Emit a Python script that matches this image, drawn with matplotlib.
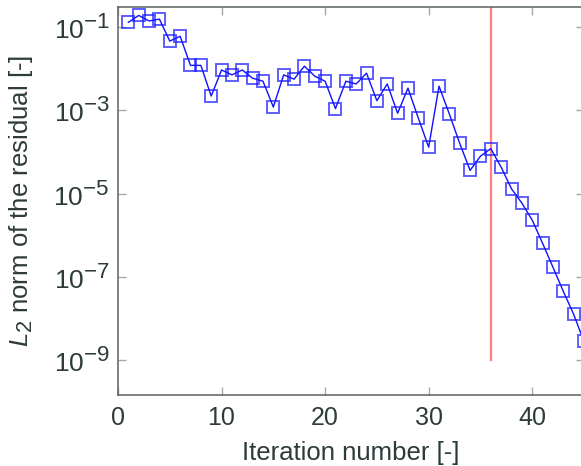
import matplotlib
matplotlib.use("Agg")
import matplotlib.pyplot as plt
import numpy as np
from matplotlib.ticker import NullLocator, FixedLocator
try:
    import matplotlib._mathtext as _mt
    _mt.SHRINK_FACTOR = 0.85
except Exception:
    pass

iterations = list(range(1, 46))
residuals = [0.13, 0.19, 0.14, 0.155, 0.046, 0.06, 0.012, 0.012, 0.0022, 0.0093,
             0.0071, 0.0093, 0.0059, 0.005, 0.0012, 0.0071, 0.0056, 0.0115, 0.0066, 0.005,
             0.0011, 0.005, 0.0043, 0.0078, 0.0017, 0.0043, 0.00085, 0.0034, 0.00065, 1.3e-4,
             0.0038, 8.1e-4, 1.6e-4, 3.6e-5, 7.9e-5, 1.2e-4, 4.3e-5, 1.3e-5, 5.9e-6, 2.3e-6,
             6.4e-7, 1.7e-7, 4.5e-8, 1.26e-8, 2.8e-9]
switch_iteration = 36
switch_ymin = 1e-9
xticks = [0, 10, 20, 30, 40]
yticks = [1e-1, 1e-3, 1e-5, 1e-7, 1e-9]

plt.rcParams['font.family'] = ['Liberation Sans', 'DejaVu Sans']
plt.rcParams['mathtext.fontset'] = 'custom'
plt.rcParams['mathtext.rm'] = 'Liberation Sans'
plt.rcParams['mathtext.it'] = 'Liberation Sans:italic'
plt.rcParams['mathtext.bf'] = 'Liberation Sans:bold'

text_color = '#2e3b3b'
fig = plt.figure(figsize=(5.81, 4.66), dpi=100)
ax = fig.add_axes([118/581, 1-395/466, (584-118)/581, (395-7)/466])

ax.plot(iterations, residuals, color='#1010ff', lw=1.0, zorder=3)
ax.plot(iterations, residuals, ls='none', marker='s', ms=8.7, mfc='none',
        mec=(0.1, 0.1, 1.0, 0.7), mew=1.4, zorder=4)
ax.plot([switch_iteration, switch_iteration], [switch_ymin, 10], color='#ff7f7f',
        lw=1.6, zorder=2, clip_on=True)

ax.set_yscale('log')
ax.set_xlim(0, 45)
ax.set_ylim(1.45e-10, 0.303)
ax.xaxis.set_major_locator(FixedLocator(xticks))
ax.yaxis.set_major_locator(FixedLocator(yticks))
ax.yaxis.set_minor_locator(NullLocator())
ax.xaxis.set_minor_locator(NullLocator())

ax.tick_params(direction='in', length=6, width=1.0, color='#a8a8a8',
               labelsize=18, labelcolor=text_color, top=True, right=True)
ax.tick_params(axis='x', pad=8)
ax.tick_params(axis='y', pad=6, labelsize=19)
for s in ax.spines.values():
    s.set_color('#5a6060')
    s.set_linewidth(1.1)

ax.set_xlabel('Iteration number [-]', fontsize=18.5, color=text_color, labelpad=8)
ax.set_ylabel('$L_2$ norm of the residual [-]', fontsize=18.5, color=text_color)
ax.yaxis.set_label_coords(-0.178, 0.5)

fig.savefig('out.png', dpi=100)
